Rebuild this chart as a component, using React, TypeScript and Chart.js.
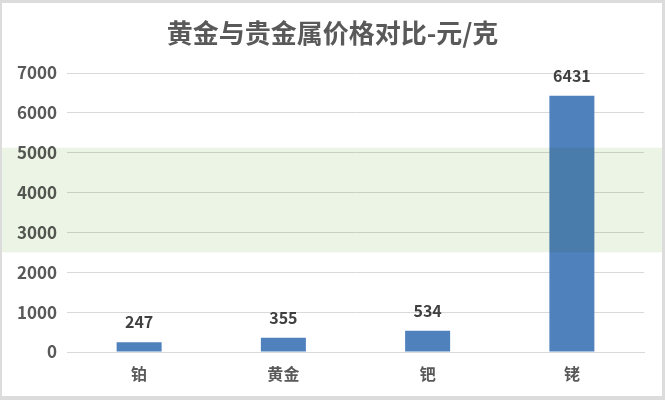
import React, { useEffect, useRef } from "react";
import { Chart, registerables } from "chart.js";

Chart.register(...registerables);

const categories = ["铂", "黄金", "钯", "铑"];
const prices = [247, 355, 534, 6431];
const yTicks = [0, 1000, 2000, 3000, 4000, 5000, 6000, 7000];
const titleText = "黄金与贵金属价格对比-元/克";

const FONT = '"Noto Sans CJK SC", "Noto Sans", sans-serif';

export default function App() {
  const ref = useRef<HTMLCanvasElement | null>(null);

  useEffect(() => {
    if (!ref.current) return;
    document.body.style.margin = "0";

    const labelPlugin = {
      id: "valueLabels",
      afterDatasetsDraw(chart: any) {
        const ctx = chart.ctx;
        const meta = chart.getDatasetMeta(0);
        ctx.save();
        ctx.font = `bold 16px ${FONT}`;
        ctx.fillStyle = "#404040";
        ctx.textAlign = "center";
        ctx.textBaseline = "middle";
        meta.data.forEach((bar: any, i: number) => {
          ctx.fillText(String(prices[i]), bar.x, bar.y - 20);
        });
        ctx.restore();
      },
    };

    const titlePlugin = {
      id: "titleText",
      afterDraw(chart: any) {
        const ctx = chart.ctx;
        ctx.save();
        ctx.font = `bold 26px ${FONT}`;
        ctx.fillStyle = "#595959";
        ctx.textAlign = "center";
        ctx.textBaseline = "middle";
        ctx.fillText(titleText, chart.width / 2, 33);
        ctx.restore();
      },
    };

    const bandPlugin = {
      id: "band",
      afterDraw(chart: any) {
        const ctx = chart.ctx;
        const y = chart.scales.y;
        const top = y.getPixelForValue(5000) - 5;
        const bottom = y.getPixelForValue(2500);
        ctx.save();
        ctx.globalCompositeOperation = "multiply";
        ctx.fillStyle = "rgb(236, 245, 229)";
        ctx.fillRect(0, top, chart.width, bottom - top);
        ctx.restore();
      },
    };

    const chart = new Chart(ref.current, {
      type: "bar",
      data: {
        labels: categories,
        datasets: [
          {
            data: prices,
            backgroundColor: "#4F81BD",
            categoryPercentage: 1,
            barPercentage: 0.312,
          },
        ],
      },
      options: {
        animation: false,
        responsive: false,
        maintainAspectRatio: false,
        layout: { padding: { left: 0, right: 21, top: 73, bottom: 0 } },
        plugins: {
          legend: { display: false },
          tooltip: { enabled: false },
          title: { display: false },
        },
        scales: {
          x: {
            grid: { display: false, drawTicks: false },
            border: { display: true, color: "#d9d9d9", width: 1 },
            ticks: {
              color: "#595959",
              font: { family: FONT, size: 16, weight: "bold" },
              padding: 12,
            },
            afterFit: (s: any) => {
              s.height = 48;
            },
          },
          y: {
            min: 0,
            max: 7000,
            afterBuildTicks: (s: any) => {
              s.ticks = yTicks.map((v) => ({ value: v }));
            },
            grid: { color: "#d9d9d9", drawTicks: false, lineWidth: 1 },
            border: { display: false },
            ticks: {
              color: "#595959",
              font: { family: FONT, size: 17, weight: "bold" },
              padding: 10,
              callback: (v: any) => String(v),
            },
            afterFit: (s: any) => {
              s.width = 67;
            },
          },
        },
      },
      plugins: [labelPlugin, titlePlugin, bandPlugin],
    });

    return () => chart.destroy();
  }, []);

  return (
    <div style={{ position: "absolute", left: 0, top: 0, width: 665, height: 400, background: "#fff" }}>
      <canvas ref={ref} width={665} height={400} style={{ display: "block" }} />
      <div
        style={{
          position: "absolute",
          left: 0,
          top: 0,
          width: 665,
          height: 400,
          boxSizing: "border-box",
          borderTop: "3px solid #dcdcdc",
          borderLeft: "2px solid #dcdcdc",
          borderRight: "3px solid #dcdcdc",
          borderBottom: "4px solid #dcdcdc",
          pointerEvents: "none",
        }}
      />
    </div>
  );
}
